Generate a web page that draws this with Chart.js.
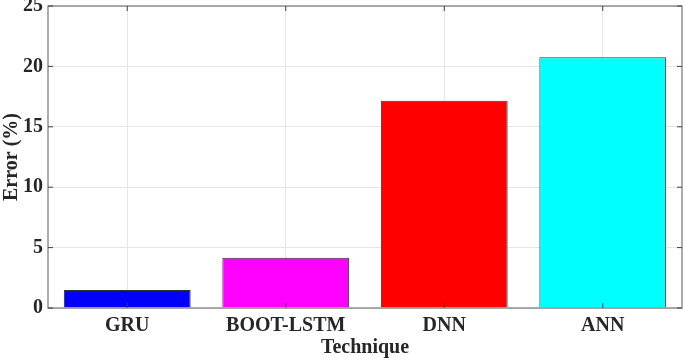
<!DOCTYPE html>
<html>
<head>
<meta charset="utf-8">
<script src="https://cdn.jsdelivr.net/npm/chart.js@4"></script>
<style>
  html, body { margin: 0; padding: 0; background: #fff; }
  #wrap { width: 685px; height: 360px; }
</style>
</head>
<body>
<div id="wrap"><canvas id="grafico" width="685" height="360"></canvas></div>
<script>
const tecnicas = ['GRU', 'BOOT-LSTM', 'DNN', 'ANN'];
const erros = [1.5, 4.15, 17.15, 20.75];
const cores = ['#0000ff', '#ff00ff', '#ff0000', '#00ffff'];
const ticksY = [0, 5, 10, 15, 20, 25];

const fonte = { family: '"Liberation Serif", "Times New Roman", serif', size: 20, weight: 'bold' };

// caixa do eixo + marcas internas, estilo MATLAB
const caixa = {
  id: 'caixa',
  afterDraw(chart) {
    const { ctx, chartArea: a, scales } = chart;
    ctx.save();
    ctx.strokeStyle = '#808080';
    ctx.lineWidth = 1.3;
    ctx.strokeRect(a.left, a.top, a.right - a.left, a.bottom - a.top);
    ctx.strokeStyle = '#404040';
    ctx.lineWidth = 1;
    ticksY.forEach(v => {
      const y = scales.y.getPixelForValue(v);
      ctx.beginPath();
      ctx.moveTo(a.left, y); ctx.lineTo(a.left + 5, y);
      ctx.moveTo(a.right, y); ctx.lineTo(a.right - 5, y);
      ctx.stroke();
    });
    tecnicas.forEach((t, i) => {
      const x = scales.x.getPixelForValue(i);
      ctx.beginPath();
      ctx.moveTo(x, a.bottom); ctx.lineTo(x, a.bottom - 5);
      ctx.moveTo(x, a.top); ctx.lineTo(x, a.top + 5);
      ctx.stroke();
    });
    ctx.restore();
  }
};

new Chart(document.getElementById('grafico'), {
  type: 'bar',
  data: {
    labels: tecnicas,
    datasets: [{
      label: 'Error',
      data: erros,
      backgroundColor: cores,
      borderColor: '#333333',
      borderWidth: 1,
      barPercentage: 0.8,
      categoryPercentage: 1.0
    }]
  },
  options: {
    responsive: false,
    animation: false,
    devicePixelRatio: 1,
    layout: { padding: { top: 6, right: 3, left: 0, bottom: 0 } },
    plugins: { legend: { display: false }, tooltip: { enabled: false } },
    scales: {
      x: {
        grid: { color: '#e6e6e6', offset: false, drawTicks: false },
        border: { display: false },
        ticks: { color: '#262626', font: fonte, padding: 6, maxRotation: 0 },
        title: { display: true, text: 'Technique', color: '#262626', font: fonte, padding: { top: 0, bottom: 0 } },
        afterFit(s) { s.height = 52; s.paddingLeft = 0; s.paddingRight = 0; }
      },
      y: {
        min: 0, max: 25,
        afterBuildTicks(s) { s.ticks = ticksY.map(v => ({ value: v })); },
        grid: { color: '#e6e6e6', drawTicks: false },
        border: { display: false },
        ticks: { color: '#262626', font: fonte, padding: 5 },
        title: { display: true, text: 'Error (%)', color: '#262626', font: fonte, padding: { top: 0, bottom: 0 } },
        afterFit(s) { s.width = 48; s.paddingTop = 0; s.paddingBottom = 0; }
      }
    }
  },
  plugins: [caixa]
});
</script>
</body>
</html>
